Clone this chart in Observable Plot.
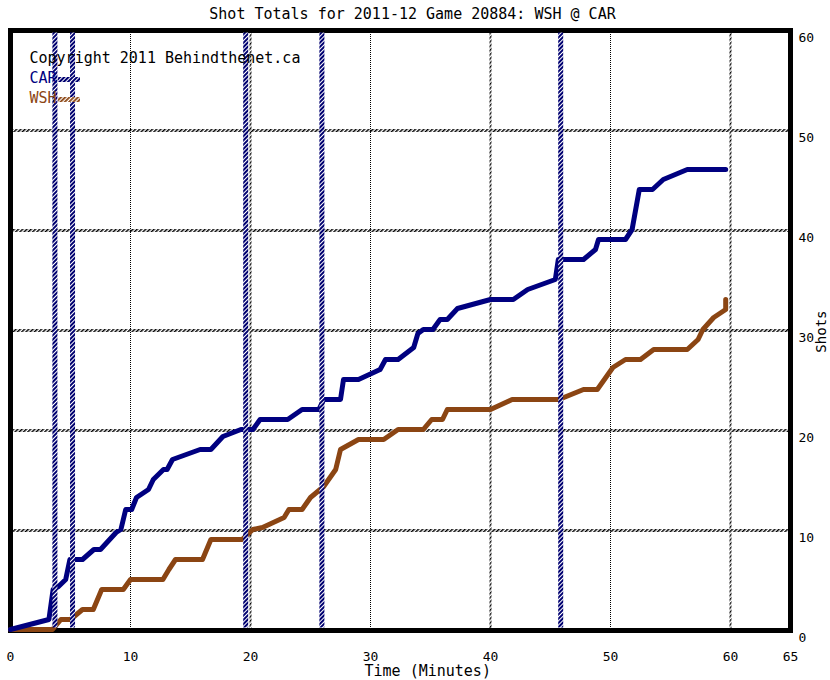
<!DOCTYPE html>
<html><head><meta charset="utf-8">
<script src="https://cdn.jsdelivr.net/npm/d3@7"></script>
<script src="https://cdn.jsdelivr.net/npm/@observablehq/plot@0.6"></script>
<style>body{margin:0;background:#fff}</style>
</head><body>
<svg width="0" height="0" style="position:absolute">
  <defs>
    <pattern id="hatchBlack" width="3" height="3" patternUnits="userSpaceOnUse" patternTransform="rotate(45)">
      <rect width="3" height="3" fill="white"/><rect width="1.5" height="3" fill="black"/>
    </pattern>
    <pattern id="hatchNavy" width="3" height="3" patternUnits="userSpaceOnUse" patternTransform="rotate(45)">
      <rect width="3" height="3" fill="white"/><rect width="2" height="3" fill="#000070"/>
    </pattern>
    <pattern id="hatchBrown" width="3" height="3" patternUnits="userSpaceOnUse" patternTransform="rotate(45)">
      <rect width="3" height="3" fill="white"/><rect width="1.8" height="3" fill="#8B4513"/>
    </pattern>
  </defs>
</svg>
<div id="chart"></div>
<script>
const title = "Shot Totals for 2011-12 Game 20884: WSH @ CAR";
const copyright = "Copyright 2011 Behindthenet.ca";
const teams = ["CAR", "WSH"];
const teamColors = ["#000080", "#8B4513"];

const carTime = [0,3.2,3.55,4.0,4.6,4.95,6.0,6.95,7.5,8.8,9.2,9.6,10.1,10.5,11.5,11.9,12.75,13.05,13.5,15.8,16.7,17.7,19.2,20.2,20.8,23.1,24.3,25.7,26.1,27.5,27.75,29,30.8,31.25,32.3,33.6,33.95,34.4,35.2,35.8,36.4,37.25,40,41.9,43.1,45.4,45.65,47.75,48.75,49,51.25,51.8,52.4,53.5,54.4,56.4,59.6];
const carShots = [0,1,4,4.3,5,7,7,8,8,9.7,10,12,12,13.2,14,15,16,16,17,18,18,19.3,20,20,21,21,22,22,23,23,25,25,26,27,27,28.2,29.6,30,30,31,31,32.1,33,33,34,35,37,37,38,39,39,40,44,44,45,46,46];

const wshTime = [0,3.5,4.2,5.0,6.0,6.9,7.6,9.4,10.0,12.7,13.2,13.75,16.0,16.7,19.3,20.2,21.0,22.8,23.2,24.3,25.0,26.1,27.1,27.5,29,31.1,32.3,34.4,35.1,36.0,36.4,40,41.8,45.7,47.75,48.9,50.2,51.25,52.5,53.6,56.4,57.3,57.7,58.6,59.6,59.6];
const wshShots = [0,0,1,1,2,2,4,4,5,5,6,7,7,9,9,10,10.2,11.2,12,12,13.2,14.3,16,18,19,19,20,20,21,21,22,22,23,23,24,24,26.2,27,27,28,28,29,30,31.2,32,33];

const goalTimes = [3.7, 5.17, 19.6, 25.95, 45.85];
const xTicks = [0,10,20,30,40,50,60,65];
const yTicks = [0,10,20,30,40,50,60];
const hGrid = [10,20,30,40,50];
const vGridDotted = [10,30,50];
const vGridHatched = [20,40,60];

const car = carTime.map((t,i) => ({t, s: carShots[i]}));
const wsh = wshTime.map((t,i) => ({t, s: wshShots[i]}));

const font = "DejaVu Sans Mono";
const plot = Plot.plot({
  width: 830, height: 680,
  marginTop: 30, marginRight: 40, marginBottom: 50, marginLeft: 10,
  style: {fontFamily: font, fontSize: "13px", color: "black", background: "white"},
  x: {domain: [0, 65]},
  y: {domain: [0, 60]},
  marks: [
    Plot.ruleY(hGrid, {stroke: "url(#hatchBlack)", strokeWidth: 3}),
    Plot.ruleX(vGridDotted, {stroke: "black", strokeWidth: 1, strokeDasharray: "1,1"}),
    Plot.ruleX(vGridHatched, {stroke: "url(#hatchBlack)", strokeWidth: 2}),
    Plot.frame({stroke: "black", strokeWidth: 5}),
    Plot.line(wsh, {x: "t", y: "s", stroke: teamColors[1], strokeWidth: 5, strokeLinejoin: "round", dy: -1}),
    Plot.line(car, {x: "t", y: "s", stroke: teamColors[0], strokeWidth: 5, strokeLinejoin: "round", dy: -1}),
    Plot.ruleX(goalTimes, {stroke: "url(#hatchNavy)", strokeWidth: 5, insetTop: 2.5, insetBottom: 2.5}),
    Plot.axisX({ticks: xTicks, tickSize: 0, tickPadding: 21, label: null, tickFormat: d => String(d)}),
    Plot.axisY({anchor: "right", ticks: yTicks, tickSize: 0, tickPadding: 8, dy: 7, label: null, tickFormat: d => String(d)}),
    Plot.text([title], {frameAnchor: "top", dx: 12, dy: -16, lineAnchor: "middle", fontSize: 15, text: d => d}),
    Plot.text([copyright], {frameAnchor: "top-left", dx: 19, dy: 28, lineAnchor: "middle", fontSize: 15, textAnchor: "start", text: d => d}),
    Plot.text([teams[0]], {frameAnchor: "top-left", dx: 19, dy: 48, lineAnchor: "middle", fontSize: 15, textAnchor: "start", text: d => d, fill: teamColors[0]}),
    Plot.text([teams[1]], {frameAnchor: "top-left", dx: 19, dy: 68, lineAnchor: "middle", fontSize: 15, textAnchor: "start", text: d => d, fill: teamColors[1]}),
    Plot.text(["Time (Minutes)"], {frameAnchor: "bottom-left", dx: 354, dy: 41, lineAnchor: "middle", fontSize: 15, textAnchor: "start", text: d => d}),
    Plot.text(["Shots"], {frameAnchor: "right", dx: 31, dy: -20, lineAnchor: "middle", fontSize: 14, rotate: -90, text: d => d})
  ]
});
document.getElementById("chart").appendChild(plot);
// legend swatches
const svg = d3.select(plot);
teams.forEach((d, i) => {
  svg.append("rect").attr("x", 58).attr("y", 77 + 20 * i).attr("width", 22).attr("height", 5)
    .attr("fill", i === 0 ? "url(#hatchNavy)" : "url(#hatchBrown)");
});
</script>
</body></html>
